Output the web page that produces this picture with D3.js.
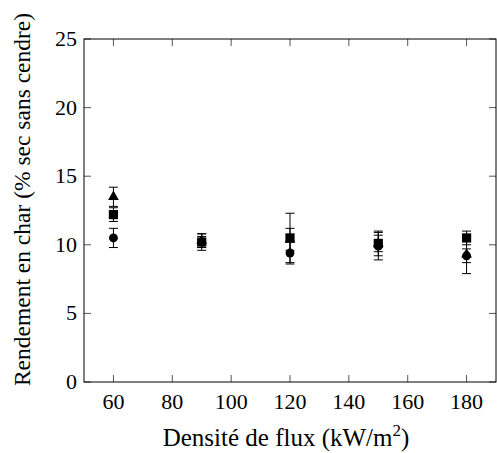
<!DOCTYPE html>
<html>
<head>
<meta charset="utf-8">
<script src="https://cdn.jsdelivr.net/npm/d3@7"></script>
<style>
  body { margin: 0; background: #fff; }
  svg text { font-family: "Liberation Serif", "DejaVu Serif", serif; }
</style>
</head>
<body>
<div id="chart-area"></div>
<script>
// data
var flux = [60, 90, 120, 150, 180];
var triangle = [13.5, 10.3, 10.4, 10.1, 9.3];
var triangleErr = [0.7, 0.5, 0.8, 0.9, 1.4];
var square = [12.2, 10.2, 10.5, 10.1, 10.5];
var squareErr = [0.5, 0.4, 1.8, 0.6, 0.5];
var circle = [10.5, 10.2, 9.4, 9.9, 9.2];
var circleErr = [0.7, 0.6, 0.8, 1.0, 0.5];
var xTicks = [60, 80, 100, 120, 140, 160, 180];
var yTicks = [0, 5, 10, 15, 20, 25];

var W = 497, H = 453;
var margin = {top: 39, right: 1, bottom: 71, left: 84};
var width = W - margin.left - margin.right,
    height = H - margin.top - margin.bottom;

var svg = d3.select("#chart-area").append("svg")
    .attr("width", W)
    .attr("height", H);

var g = svg.append("g")
    .attr("transform", "translate(" + margin.left + "," + margin.top + ")");

var x = d3.scaleLinear().domain([50, 190]).range([0, width]);
var y = d3.scaleLinear().domain([0, 25]).range([height, 0]);

var tickLen = 7;

// ticks on all four sides, pointing inward
g.selectAll(".xt").data(xTicks).enter().append("line")
    .attr("x1", function(d) { return x(d); }).attr("x2", function(d) { return x(d); })
    .attr("y1", height).attr("y2", height - tickLen)
    .attr("stroke", "#555");
g.selectAll(".xtt").data(xTicks).enter().append("line")
    .attr("x1", function(d) { return x(d); }).attr("x2", function(d) { return x(d); })
    .attr("y1", 0).attr("y2", tickLen)
    .attr("stroke", "#555");
g.selectAll(".yt").data(yTicks).enter().append("line")
    .attr("x1", 0).attr("x2", tickLen)
    .attr("y1", function(d) { return y(d); }).attr("y2", function(d) { return y(d); })
    .attr("stroke", "#555");
g.selectAll(".ytr").data(yTicks).enter().append("line")
    .attr("x1", width).attr("x2", width - tickLen)
    .attr("y1", function(d) { return y(d); }).attr("y2", function(d) { return y(d); })
    .attr("stroke", "#555");

// tick labels
g.selectAll(".xl").data(xTicks).enter().append("text")
    .attr("x", function(d) { return x(d); })
    .attr("y", height + 27)
    .attr("text-anchor", "middle")
    .attr("font-size", 22)
    .text(function(d) { return String(d); });
g.selectAll(".yl").data(yTicks).enter().append("text")
    .attr("x", -7)
    .attr("y", function(d) { return y(d) + 7; })
    .attr("text-anchor", "end")
    .attr("font-size", 22)
    .text(function(d) { return String(d); });

// frame
g.append("rect")
    .attr("width", width).attr("height", height)
    .attr("fill", "none").attr("stroke", "#000").attr("stroke-width", 1);

// series
var series = [
    {vals: triangle, err: triangleErr, shape: d3.symbolTriangle, size: 50},
    {vals: circle, err: circleErr, shape: d3.symbolCircle, size: 62},
    {vals: square, err: squareErr, shape: d3.symbolSquare, size: 85}
];
var cap = 4.5;

series.forEach(function(s) {
    var pts = flux.map(function(f, i) { return {x: f, v: s.vals[i], e: s.err[i]}; });
    var eg = g.append("g");
    eg.selectAll("line.v").data(pts).enter().append("line")
        .attr("x1", function(d) { return x(d.x); }).attr("x2", function(d) { return x(d.x); })
        .attr("y1", function(d) { return y(d.v - d.e); }).attr("y2", function(d) { return y(d.v + d.e); })
        .attr("stroke", "#000").attr("stroke-width", 1);
    [-1, 1].forEach(function(sign) {
        eg.selectAll("line.c" + sign).data(pts).enter().append("line")
            .attr("x1", function(d) { return x(d.x) - cap; }).attr("x2", function(d) { return x(d.x) + cap; })
            .attr("y1", function(d) { return y(d.v + sign * d.e); })
            .attr("y2", function(d) { return y(d.v + sign * d.e); })
            .attr("stroke", "#000").attr("stroke-width", 1);
    });
    eg.selectAll("path").data(pts).enter().append("path")
        .attr("d", d3.symbol().type(s.shape).size(s.size))
        .attr("transform", function(d) { return "translate(" + x(d.x) + "," + y(d.v) + ")"; })
        .attr("fill", "#000");
});

// axis labels
svg.append("text")
    .attr("x", margin.left + width / 2 - 4)
    .attr("y", 446)
    .attr("text-anchor", "middle")
    .attr("font-size", 25)
    .html('Densité de flux (kW/m<tspan dy="-10" font-size="17">2</tspan><tspan dy="10">)</tspan>');

svg.append("text")
    .attr("transform", "translate(30," + (margin.top + height / 2 - 11) + ") rotate(-90)")
    .attr("text-anchor", "middle")
    .attr("font-size", 23.5)
    .text("Rendement en char (% sec sans cendre)");
</script>
</body>
</html>
